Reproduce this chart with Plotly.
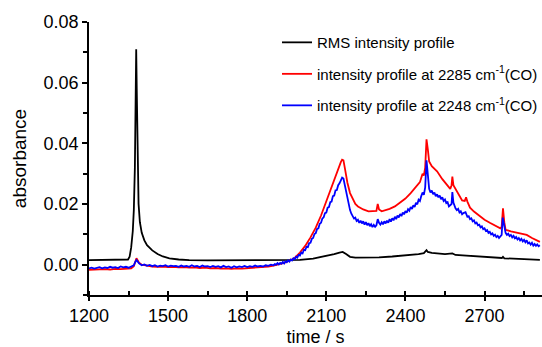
import plotly.graph_objects as go

# ---- data ----
t_black = [1200, 1250, 1300, 1340, 1348, 1354, 1360, 1366, 1370, 1374, 1377, 1379, 1381, 1384, 1388,
           1393, 1400, 1410, 1420, 1440, 1460, 1480, 1505, 1540, 1580, 1650, 1750, 1850, 1950, 2000,
           2050, 2100, 2130, 2150, 2162, 2175, 2190, 2210, 2250, 2300, 2350, 2400, 2450, 2470, 2480,
           2485, 2500, 2550, 2578, 2590, 2650, 2700, 2766, 2770, 2775, 2850, 2910]
a_black = [0.0015, 0.0015, 0.0015, 0.0015, 0.0017, 0.0026, 0.0057, 0.0110, 0.0180, 0.0320, 0.0550,
           0.0710, 0.0580, 0.0350, 0.0200, 0.0140, 0.0105, 0.0080, 0.0064, 0.0047, 0.0035, 0.0027,
           0.0021, 0.0017, 0.0015, 0.0014, 0.0014, 0.0014, 0.0015, 0.0016, 0.0020, 0.0028, 0.0035,
           0.0040, 0.0042, 0.0035, 0.0026, 0.0023, 0.0023, 0.0024, 0.0027, 0.0030, 0.0035, 0.0038,
           0.0048, 0.0042, 0.0039, 0.0035, 0.0037, 0.0032, 0.0028, 0.0025, 0.0022, 0.0026, 0.0021,
           0.0018, 0.0016]

t_red = [1200, 1220, 1240, 1260, 1280, 1300, 1320, 1340, 1360, 1370, 1375, 1380, 1385, 1390, 1400,
         1420, 1440, 1460, 1480, 1500, 1520, 1540, 1560, 1580, 1600, 1620, 1640, 1660, 1680, 1700,
         1720, 1740, 1760, 1780, 1800, 1820, 1840, 1860, 1880, 1900, 1920, 1940, 1960, 1980, 2000,
         2020, 2040, 2060, 2080, 2100, 2120, 2140, 2150, 2155, 2160, 2165, 2170, 2175, 2180, 2190,
         2200, 2210, 2220, 2240, 2260, 2280, 2290, 2295, 2300, 2310, 2320, 2340, 2360, 2380, 2400,
         2420, 2440, 2455, 2465, 2470, 2475, 2480, 2485, 2490, 2500, 2520, 2540, 2560, 2570, 2575,
         2578, 2582, 2590, 2600, 2615, 2625, 2630, 2635, 2645, 2660, 2680, 2700, 2720, 2740, 2760,
         2765, 2770, 2775, 2780, 2800, 2820, 2840, 2860, 2880, 2900, 2910]
a_red = [-0.0017, -0.0016, -0.0017, -0.0015, -0.0016, -0.0014, -0.0015, -0.0013, -0.0012, -0.0005,
         0.0010, 0.0021, 0.0014, 0.0006, 0.0000, -0.0004, -0.0006, -0.0007, -0.0006, -0.0008,
         -0.0007, -0.0009, -0.0008, -0.0010, -0.0009, -0.0011, -0.0010, -0.0012, -0.0011, -0.0013,
         -0.0012, -0.0014, -0.0012, -0.0013, -0.0012, -0.0011, -0.0010, -0.0008, -0.0006, -0.0003,
         0.0001, 0.0006, 0.0013, 0.0022, 0.0040, 0.0062, 0.0090, 0.0122, 0.0162, 0.0210, 0.0256,
         0.0300, 0.0325, 0.0338, 0.0346, 0.0344, 0.0320, 0.0295, 0.0270, 0.0236, 0.0215, 0.0200,
         0.0192, 0.0182, 0.0176, 0.0175, 0.0177, 0.0200, 0.0182, 0.0176, 0.0178, 0.0184, 0.0192,
         0.0205, 0.0218, 0.0236, 0.0255, 0.0272, 0.0300, 0.0294, 0.0320, 0.0413, 0.0380, 0.0340,
         0.0325, 0.0308, 0.0282, 0.0262, 0.0250, 0.0262, 0.0290, 0.0262, 0.0250, 0.0235, 0.0212,
         0.0210, 0.0222, 0.0208, 0.0188, 0.0175, 0.0160, 0.0148, 0.0138, 0.0128, 0.0120, 0.0125,
         0.0186, 0.0140, 0.0115, 0.0110, 0.0106, 0.0103, 0.0098, 0.0088, 0.0080, 0.0075]

t_blue = [1200, 1210, 1220, 1230, 1240, 1250, 1260, 1270, 1280, 1290, 1300, 1310, 1320, 1330, 1340,
          1350, 1360, 1370, 1375, 1380, 1385, 1390, 1400, 1410, 1420, 1430, 1440, 1450, 1460, 1470,
          1480, 1490, 1500, 1510, 1520, 1530, 1540, 1550, 1560, 1570, 1580, 1590, 1600, 1610, 1620,
          1630, 1640, 1650, 1660, 1670, 1680, 1690, 1700, 1710, 1720, 1730, 1740, 1750, 1760, 1770,
          1780, 1790, 1800, 1810, 1820, 1830, 1840, 1850, 1860, 1870, 1880, 1890,
          1900, 1905, 1910, 1915, 1920, 1925, 1930, 1935, 1940, 1945, 1950, 1955, 1960, 1965, 1970,
          1975, 1980, 1985, 1990, 1995, 2000, 2005, 2010, 2015, 2020, 2025, 2030, 2035, 2040, 2045,
          2050, 2055, 2060, 2065, 2070, 2075, 2080, 2085, 2090, 2095, 2100, 2105, 2110, 2115, 2120,
          2125, 2130, 2135, 2140, 2145, 2150, 2155, 2160, 2165, 2170, 2175, 2180, 2185, 2190, 2195,
          2200, 2205, 2210, 2215, 2220, 2225, 2230, 2235, 2240, 2245, 2250, 2255, 2260, 2265, 2270,
          2275, 2280, 2285, 2290, 2295, 2300, 2305, 2310, 2315, 2320, 2325, 2330, 2335, 2340, 2345,
          2350, 2355, 2360, 2365, 2370, 2375, 2380, 2385, 2390, 2395, 2400, 2405, 2410, 2415, 2420,
          2425, 2430, 2435, 2440, 2445, 2450, 2455, 2460, 2465, 2470, 2475, 2480, 2485,
          2490, 2495, 2500, 2505, 2510, 2515, 2520, 2525, 2530, 2535, 2540, 2545, 2550, 2555, 2560,
          2565, 2570, 2575, 2578, 2582, 2590, 2595, 2600, 2605, 2610, 2615, 2620, 2628, 2635, 2640,
          2645, 2650, 2655, 2660, 2665, 2670, 2675, 2680, 2685, 2690, 2695, 2700, 2705, 2710, 2715,
          2720, 2725, 2730, 2735, 2740, 2745, 2750, 2755, 2760, 2765, 2769, 2775, 2780, 2785, 2790,
          2795, 2800, 2805, 2810, 2815, 2820, 2825, 2830, 2835, 2840, 2845, 2850, 2855, 2860, 2865,
          2870, 2875, 2880, 2885, 2890, 2895, 2900, 2905, 2910]
a_blue = [-0.0012, -0.0010, -0.0013, -0.0011, -0.0008, -0.0012, -0.0009, -0.0011, -0.0007, -0.0010,
          -0.0008, -0.0011, -0.0006, -0.0009, -0.0007, -0.0010, -0.0006, -0.0002, 0.0008, 0.0015,
          0.0010, 0.0004, -0.0002, 0.0001, -0.0004, -0.0001, -0.0005, -0.0002, -0.0006, -0.0003,
          -0.0005, -0.0002, -0.0006, -0.0003, -0.0005, -0.0004, -0.0007, -0.0003, -0.0006, -0.0004,
          -0.0007, -0.0002, -0.0006, -0.0004, -0.0008, -0.0003, -0.0006, -0.0005, -0.0008, -0.0004,
          -0.0007, -0.0005, -0.0009, -0.0004, -0.0008, -0.0006, -0.0010, -0.0005, -0.0009, -0.0006,
          -0.0008, -0.0004, -0.0008, -0.0005, -0.0007, -0.0003, -0.0006, -0.0004, -0.0006, -0.0002,
          -0.0004, 0.0000,
          -0.0002, 0.0002, 0.0000, 0.0005, 0.0001, 0.0006, 0.0003, 0.0009, 0.0004, 0.0011, 0.0008,
          0.0014, 0.0010, 0.0017, 0.0014, 0.0021, 0.0018, 0.0026, 0.0023, 0.0032, 0.0030, 0.0040,
          0.0037, 0.0049, 0.0048, 0.0059, 0.0058, 0.0071, 0.0072, 0.0085, 0.0088, 0.0101, 0.0104,
          0.0118, 0.0120, 0.0135, 0.0138, 0.0152, 0.0156, 0.0170, 0.0172, 0.0188, 0.0190, 0.0206,
          0.0208, 0.0226, 0.0228, 0.0245, 0.0246, 0.0262, 0.0268, 0.0280, 0.0287, 0.0284, 0.0262,
          0.0240, 0.0222, 0.0200, 0.0180, 0.0168, 0.0162, 0.0152, 0.0155, 0.0144, 0.0148, 0.0138,
          0.0145, 0.0136, 0.0143, 0.0132, 0.0140, 0.0130, 0.0137, 0.0127, 0.0133, 0.0124, 0.0131,
          0.0125, 0.0130, 0.0150, 0.0138, 0.0132, 0.0140, 0.0133, 0.0143, 0.0136, 0.0145, 0.0138,
          0.0150, 0.0142, 0.0153, 0.0146, 0.0158, 0.0150, 0.0162, 0.0156, 0.0167, 0.0160, 0.0172,
          0.0166, 0.0177, 0.0171, 0.0183, 0.0178, 0.0190, 0.0184, 0.0196, 0.0190, 0.0204, 0.0199,
          0.0214, 0.0210, 0.0226, 0.0238, 0.0230, 0.0255, 0.0344, 0.0290,
          0.0250, 0.0238, 0.0244, 0.0232, 0.0238, 0.0226, 0.0232, 0.0222, 0.0228, 0.0216, 0.0222,
          0.0210, 0.0215, 0.0203, 0.0206, 0.0192, 0.0196, 0.0200, 0.0239, 0.0205, 0.0186, 0.0180,
          0.0184, 0.0172, 0.0176, 0.0166, 0.0170, 0.0173, 0.0158, 0.0160, 0.0150, 0.0153, 0.0143,
          0.0146, 0.0136, 0.0139, 0.0130, 0.0132, 0.0123, 0.0126, 0.0117, 0.0120, 0.0111, 0.0114,
          0.0105, 0.0108, 0.0100, 0.0103, 0.0095, 0.0099, 0.0091, 0.0095, 0.0088, 0.0092, 0.0098,
          0.0155, 0.0125, 0.0105, 0.0098, 0.0102, 0.0094, 0.0098, 0.0090, 0.0095, 0.0087, 0.0091,
          0.0083, 0.0088, 0.0080, 0.0085, 0.0077, 0.0082, 0.0074, 0.0080, 0.0070, 0.0073, 0.0066,
          0.0072, 0.0063, 0.0068, 0.0062, 0.0067, 0.0061, 0.0064]

names = ["RMS intensity profile",
         "intensity profile at 2285 cm<sup>-1</sup>(CO)",
         "intensity profile at 2248 cm<sup>-1</sup>(CO)"]
colors = ["#000000", "#ff0000", "#0000ff"]

FONT = "Liberation Sans, Arial, sans-serif"

fig = go.Figure()
series = [(t_black, a_black), (t_red, a_red), (t_blue, a_blue)]
for i in range(3):
    t, a = series[i]
    fig.add_trace(go.Scatter(x=t, y=a, mode="lines", name=names[i],
                             line=dict(color=colors[i], width=1.8),
                             legendgroup=f"g{i}"))

fig.update_layout(
    width=542, height=347,
    margin=dict(l=89, r=0, t=22, b=52, autoexpand=False),
    paper_bgcolor="white", plot_bgcolor="white",
    font=dict(family=FONT, color="black", size=18),
    showlegend=True,
    legend=dict(x=0.415, y=0.985, xanchor="left", yanchor="top",
                bgcolor="rgba(0,0,0,0)", font=dict(size=15, family=FONT),
                traceorder="grouped", tracegroupgap=9, itemwidth=30),
)
fig.update_xaxes(
    range=[1200, 2918], tick0=1200, dtick=300,
    showline=True, linecolor="black", linewidth=1.5,
    showgrid=False, zeroline=False,
    ticks="outside", ticklen=4, tickwidth=1.5, tickcolor="black",
    minor=dict(ticks="inside", dtick=150, tick0=1200, ticklen=4, tickwidth=1.5, tickcolor="black"),
    tickfont=dict(size=18, family=FONT),
    title=dict(text="time / s", font=dict(size=18, family=FONT), standoff=5),
)
fig.update_yaxes(
    range=[-0.01, 0.08], tick0=0, dtick=0.02, tickformat=".2f",
    showline=True, linecolor="black", linewidth=1.5,
    showgrid=False, zeroline=False,
    ticks="outside", ticklen=5, tickwidth=1.5, tickcolor="black",
    minor=dict(ticks="outside", dtick=0.01, tick0=0, ticklen=4, tickwidth=1.5, tickcolor="black"),
    tickfont=dict(size=18, family=FONT),
    title=dict(text="absorbance", font=dict(size=19, family=FONT), standoff=12),
)

fig.write_html("out.html")
